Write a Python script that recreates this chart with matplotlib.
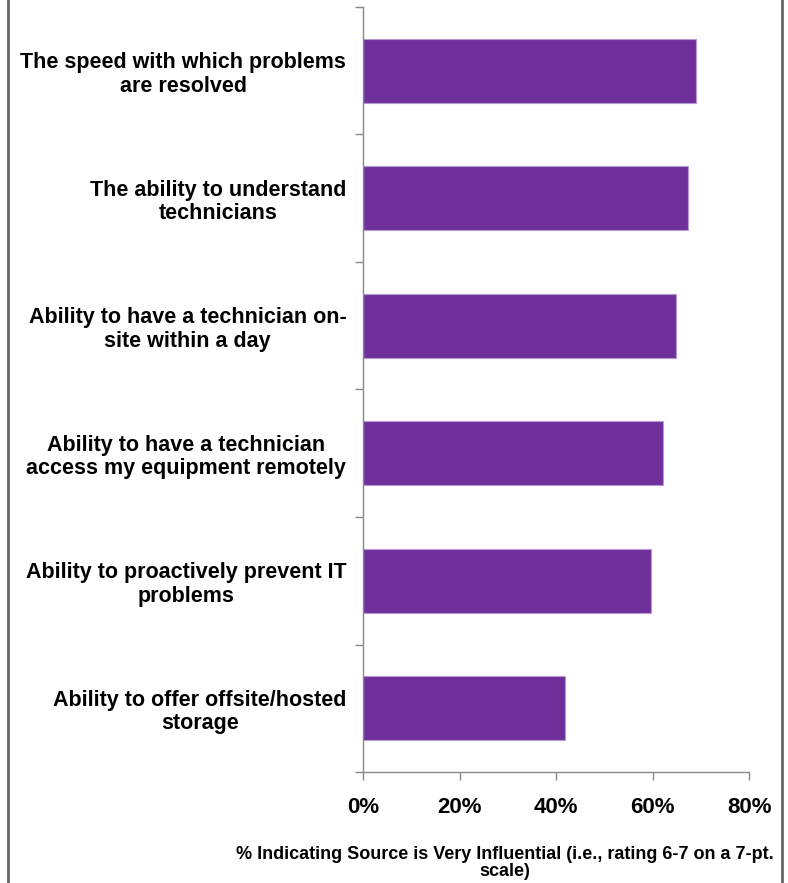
import numpy as np
import matplotlib
matplotlib.use("Agg")
import matplotlib.pyplot as plt
from matplotlib.lines import Line2D

plt.rcParams["font.family"] = ["Liberation Sans", "DejaVu Sans"]
plt.rcParams["font.weight"] = "bold"

labels = ["The speed with which problems\nare resolved",
          "The ability to understand\ntechnicians",
          "Ability to have a technician on-\nsite within a day",
          "Ability to have a technician\naccess my equipment remotely",
          "Ability to proactively prevent IT\nproblems",
          "Ability to offer offsite/hosted\nstorage"]
values = [68.9, 67.4, 64.8, 62.2, 59.6, 41.8]
xticks = [0, 20, 40, 60, 80]
xlabel = "% Indicating Source is Very Influential (i.e., rating 6-7 on a 7-pt.\nscale)"

fig = plt.figure(figsize=(7.88, 8.83), dpi=100)
ax = fig.add_axes([363 / 788, 1 - 772 / 883, (749.3 - 363) / 788, (772 - 7) / 883])

pos = np.arange(len(labels))
ax.barh(pos, values, height=0.5, color="#70309C", edgecolor="#B59AD0", linewidth=0.8)

ax.set_xlim(0, 80)
ax.set_ylim(len(labels) - 0.5, -0.5)

# ticks at category boundaries, labels at centres
ax.set_yticks(np.arange(len(labels) + 1) - 0.5)
ax.set_yticklabels([])
ax.set_yticks(pos, minor=True)
ax.set_yticklabels(labels, minor=True, fontsize=15.5, fontweight="bold")
for t in ax.get_yticklabels(minor=True):
    t.set_multialignment("center")
    t.set_linespacing(1.15)
ax.tick_params(axis="y", which="minor", length=0, pad=12)
ax.tick_params(axis="y", which="major", length=6, color="#888888", width=1)

ax.set_xticks(xticks)
ax.set_xticklabels(["%d%%" % v for v in xticks], fontsize=16, fontweight="bold")
ax.tick_params(axis="x", length=6, color="#888888", width=1, pad=12)

for s in ["top", "right"]:
    ax.spines[s].set_visible(False)
for s in ["left", "bottom"]:
    ax.spines[s].set_color("#888888")
    ax.spines[s].set_linewidth(1)

fig.text(505 / 788, 1 - 863 / 883, xlabel, ha="center", va="center",
         fontsize=13, fontweight="bold", linespacing=1.0)

# frame edges on the left and right
fig.add_artist(Line2D([8 / 788, 8 / 788], [0, 1], color="#666666", lw=2))
fig.add_artist(Line2D([782 / 788, 782 / 788], [0, 1], color="#666666", lw=2))

fig.savefig("out.png", dpi=100)
